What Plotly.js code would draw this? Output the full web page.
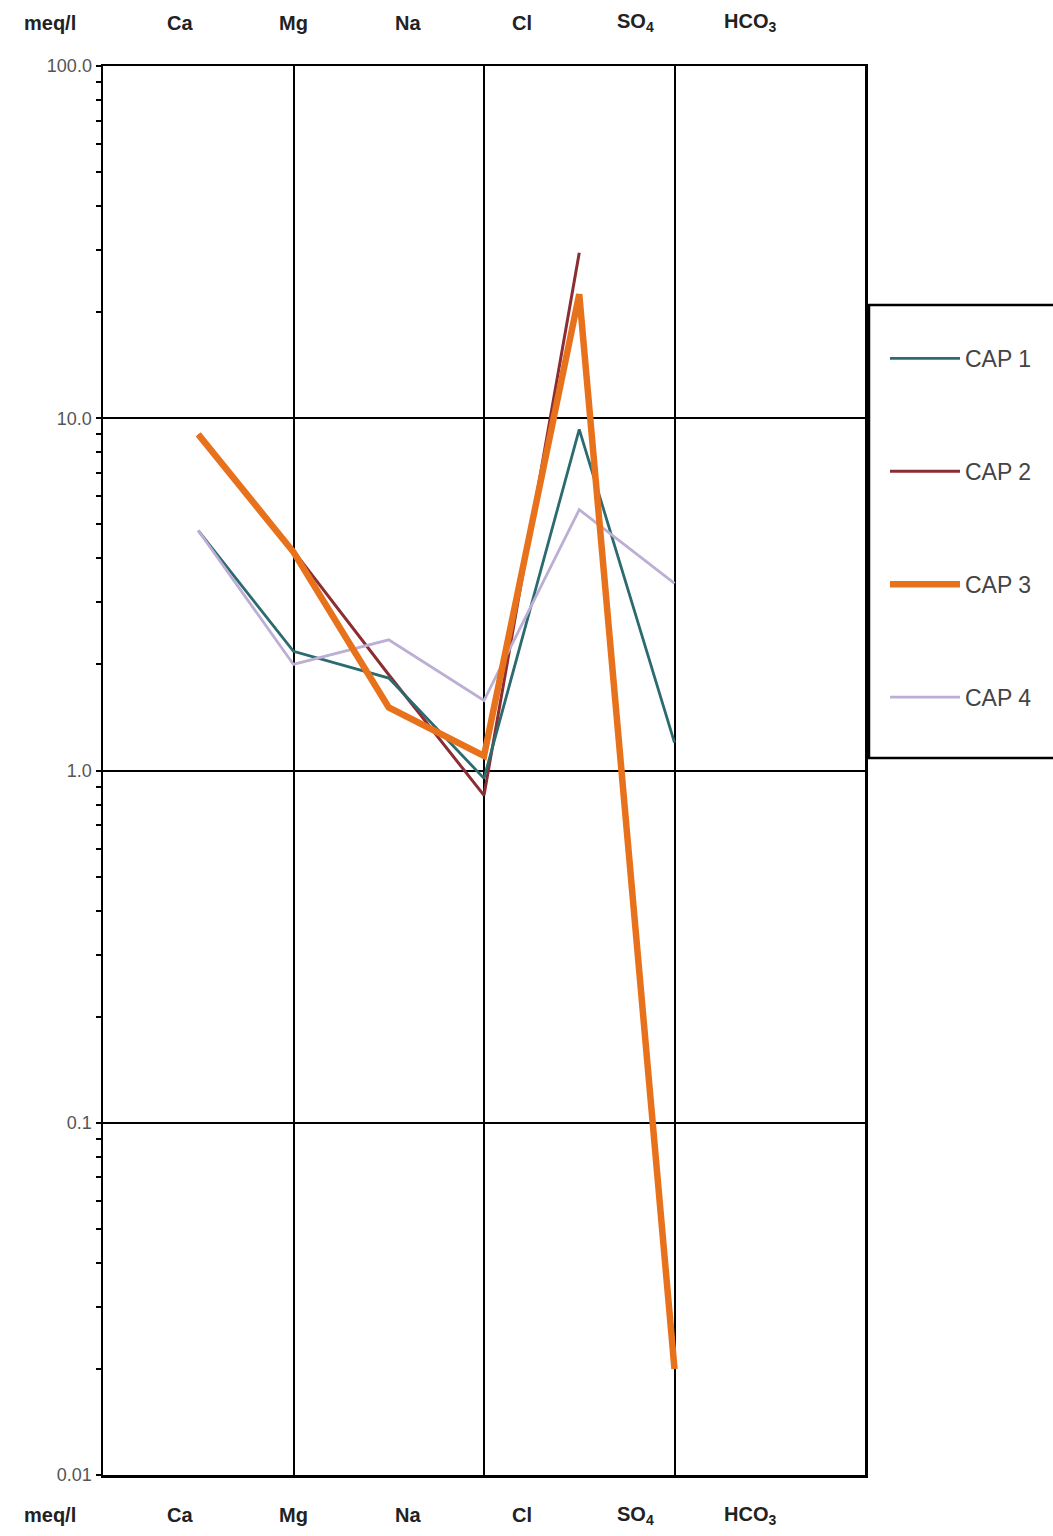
<!DOCTYPE html>
<html>
<head>
<meta charset="utf-8">
<script src="https://cdn.plot.ly/plotly-3.0.1.min.js"></script>
<style>html,body{margin:0;padding:0;background:#fff;}#chart{width:1053px;height:1536px;}</style>
</head>
<body>
<div id="chart"></div>
<script>
// Ion categories (Schoeller diagram), values in meq/l
const ions = ["Ca", "Mg", "Na", "Cl", "SO<sub>4</sub>", "HCO<sub>3</sub>"];
const ionPos = [1, 2, 3, 4, 5, 6];
const cap1 = [4.8, 2.18, 1.83, 0.95, 9.3, 1.2];
const cap2 = [9.0, 4.2, 1.87, 0.85, 29.5, null];
const cap3 = [9.0, 4.17, 1.51, 1.1, 22.5, 0.02];
const cap4 = [4.8, 2.0, 2.35, 1.58, 5.5, 3.4];
const seriesNames = ["CAP 1", "CAP 2", "CAP 3", "CAP 4"];
const yTickVals = [0.01, 0.1, 1, 10, 100];
const yTickText = ["0.01", "0.1", "1.0", "10.0", "100.0"];

const colors = ["#2b6b6f", "#8c2d33", "#e8721c", "#bcaed4"];
const widths = [2.8, 3, 6.5, 2.8];
const data = [cap1, cap2, cap3, cap4];

const traces = data.map((vals, i) => ({
  x: ionPos,
  y: vals,
  type: "scatter",
  mode: "lines",
  name: seriesNames[i],
  legendgroup: "g" + i,
  legendrank: i + 1,
  connectgaps: false,
  line: {color: colors[i], width: widths[i]},
  hoverinfo: "x+y+name"
}));
// draw thick orange on top of the others
const drawn = [traces[1], traces[0], traces[3], traces[2]];

// minor tick values for log axis
const minorVals = [];
for (let d = -2; d < 2; d++) {
  for (let k = 2; k <= 9; k++) minorVals.push(k * Math.pow(10, d));
}

const annotations = [];
const labFont = {family: "Liberation Sans, Arial, sans-serif", size: 20, color: "#222"};
ions.forEach((t, i) => {
  const px = 0.101 + i * 0.1496;
  annotations.push({text: "<b>" + t + "</b>", xref: "paper", yref: "paper", x: px, y: 1.0 + 43 / 1409, xanchor: "center", yanchor: "middle", showarrow: false, font: labFont});
  annotations.push({text: "<b>" + t + "</b>", xref: "paper", yref: "paper", x: px, y: -40 / 1409, xanchor: "center", yanchor: "middle", showarrow: false, font: labFont});
});
annotations.push({text: "<b>meq/l</b>", xref: "paper", yref: "paper", x: -53 / 762, y: 1.0 + 43 / 1409, xanchor: "center", yanchor: "middle", showarrow: false, font: labFont});
annotations.push({text: "<b>meq/l</b>", xref: "paper", yref: "paper", x: -53 / 762, y: -40 / 1409, xanchor: "center", yanchor: "middle", showarrow: false, font: labFont});

const layout = {
  width: 1053,
  height: 1536,
  margin: {l: 103, r: 188, t: 66, b: 61, pad: 0},
  paper_bgcolor: "#fff",
  plot_bgcolor: "#fff",
  showlegend: true,
  xaxis: {
    range: [0, 8],
    tickmode: "linear",
    tick0: 0,
    dtick: 2,
    showticklabels: false,
    ticks: "",
    showgrid: true,
    gridcolor: "#000",
    gridwidth: 2,
    zeroline: false,
    showline: true,
    linecolor: "#000",
    linewidth: 2.5,
    mirror: true,
    fixedrange: true
  },
  yaxis: {
    type: "log",
    range: [-2, 2],
    tickmode: "array",
    tickvals: yTickVals,
    ticktext: yTickText,
    ticks: "outside",
    ticklen: 5,
    tickwidth: 2,
    tickcolor: "#000",
    tickfont: {family: "Liberation Sans, Arial, sans-serif", size: 18, color: "#555"},
    minor: {tickmode: "array", tickvals: minorVals, ticks: "outside", ticklen: 5, tickwidth: 2, tickcolor: "#000", showgrid: false},
    showgrid: true,
    gridcolor: "#000",
    gridwidth: 2,
    zeroline: false,
    showline: true,
    linecolor: "#000",
    linewidth: 2.5,
    mirror: true,
    fixedrange: true
  },
  legend: {
    x: 1.0 + 20 / 762,
    y: 1 - (337 - 66) / 1409,
    xanchor: "left",
    yanchor: "top",
    bgcolor: "rgba(0,0,0,0)",
    borderwidth: 0,
    tracegroupgap: 80,
    traceorder: "grouped",
    font: {family: "Liberation Sans, Arial, sans-serif", size: 23, color: "#444"},
    itemwidth: 70
  },
  shapes: [{
    type: "rect", xref: "paper", yref: "paper",
    x0: 1.0 + 4 / 762, x1: 1.0 + 195 / 762,
    y0: 1 - (758 - 66) / 1409, y1: 1 - (305 - 66) / 1409,
    line: {color: "#000", width: 2.5}, fillcolor: "rgba(0,0,0,0)", layer: "below"
  }],
  annotations: annotations
};

Plotly.newPlot("chart", drawn, layout, {displayModeBar: false, staticPlot: true});
</script>
</body>
</html>
